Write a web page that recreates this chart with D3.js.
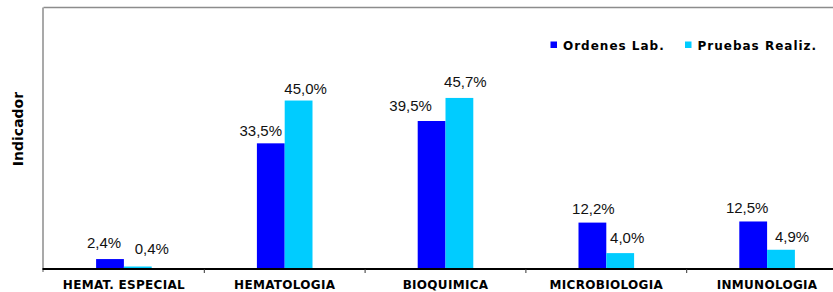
<!DOCTYPE html>
<html>
<head>
<meta charset="utf-8">
<script src="https://cdn.jsdelivr.net/npm/d3@7"></script>
<style>
  body { margin: 0; background: #fff; overflow: hidden; }
  svg { display: block; }
</style>
</head>
<body>
<svg id="chartSVG" width="833" height="292"></svg>
<script>
// data
var categories = ['HEMAT. ESPECIAL', 'HEMATOLOGIA', 'BIOQUIMICA', 'MICROBIOLOGIA', 'INMUNOLOGIA'];
var seriesNames = ['Ordenes Lab.', 'Pruebas Realiz.'];
var ordenes = [2.4, 33.5, 39.5, 12.2, 12.5];
var pruebas = [0.4, 45.0, 45.7, 4.0, 4.9];

// label nudges (the labels in the original are not quite centred)
var nudgeOrdenes = [[-6, -11], [-10, -7], [-21, -10], [1, -9], [-6, -8]];
var nudgePruebas = [[14, -13], [7, -7], [6, -11], [7, -10], [11, -8]];

var colors = ['#0000ff', '#00ccff'];

var svg = d3.select('#chartSVG');
var plotLeft = 43.5, plotTop = 7.5, plotBottom = 268, bandW = 160.8, barW = 27.8;

var x0 = d3.scaleBand()
  .domain(categories)
  .range([plotLeft, plotLeft + bandW * categories.length])
  .padding(0);

var x1 = d3.scaleBand()
  .domain(seriesNames)
  .range([bandW / 2 - barW, bandW / 2 + barW])
  .padding(0);

var y = d3.scaleLinear().domain([0, 70]).range([plotBottom, plotTop]);

var fmt = function(v){ return d3.format('.1f')(v).replace('.', ',') + '%'; };

// plot frame (grey top + left)
svg.append('line')
  .attr('x1', plotLeft).attr('x2', 833)
  .attr('y1', plotTop).attr('y2', plotTop)
  .attr('stroke', '#8c8c8c').attr('stroke-width', 1.5);

svg.append('line')
  .attr('x1', plotLeft - 0.5).attr('x2', plotLeft - 0.5)
  .attr('y1', plotTop).attr('y2', plotBottom + 4)
  .attr('stroke', '#8c8c8c').attr('stroke-width', 1.5);

var rows = categories.map(function(c, i){
  return {cat: c, vals: [
    {name: seriesNames[0], v: ordenes[i], nudge: nudgeOrdenes[i], color: colors[0]},
    {name: seriesNames[1], v: pruebas[i], nudge: nudgePruebas[i], color: colors[1]}
  ]};
});

var groups = svg.selectAll('.catg')
  .data(rows)
  .enter()
  .append('g')
  .attr('class', 'catg')
  .attr('transform', function(d){ return 'translate(' + x0(d.cat) + ',0)'; });

groups.selectAll('rect')
  .data(function(d){ return d.vals; })
  .enter()
  .append('rect')
  .attr('x', function(d){ return x1(d.name); })
  .attr('width', x1.bandwidth())
  .attr('y', function(d){ return y(d.v); })
  .attr('height', function(d){ return plotBottom - y(d.v); })
  .attr('fill', function(d){ return d.color; });

groups.selectAll('.vlab')
  .data(function(d){ return d.vals; })
  .enter()
  .append('text')
  .attr('class', 'vlab')
  .attr('x', function(d){ return x1(d.name) + x1.bandwidth() / 2 + d.nudge[0]; })
  .attr('y', function(d){ return y(d.v) + d.nudge[1]; })
  .attr('text-anchor', 'middle')
  .attr('font-family', '"Liberation Sans", Arial, sans-serif')
  .attr('font-size', '15px')
  .attr('fill', '#111')
  .text(function(d){ return fmt(d.v); });

// x axis
svg.append('line')
  .attr('x1', plotLeft - 1).attr('x2', 833)
  .attr('y1', plotBottom + 1).attr('y2', plotBottom + 1)
  .attr('stroke', '#000').attr('stroke-width', 2);

svg.selectAll('.sep')
  .data(categories.slice(1))
  .enter()
  .append('line')
  .attr('class', 'sep')
  .attr('x1', function(d){ return x0(d); }).attr('x2', function(d){ return x0(d); })
  .attr('y1', plotBottom + 1).attr('y2', plotBottom + 5)
  .attr('stroke', '#333').attr('stroke-width', 1);

svg.selectAll('.xlab')
  .data(categories)
  .enter()
  .append('text')
  .attr('class', 'xlab')
  .attr('x', function(d){ return x0(d) + x0.bandwidth() / 2; })
  .attr('y', 288.5)
  .attr('text-anchor', 'middle')
  .attr('font-family', '"DejaVu Sans", Verdana, sans-serif')
  .attr('font-weight', 'bold')
  .attr('font-size', '12px')
  .attr('letter-spacing', '0.3px')
  .attr('fill', '#000')
  .text(function(d){ return d; });

// y title
svg.append('text')
  .attr('transform', 'translate(23,129) rotate(-90)')
  .attr('text-anchor', 'middle')
  .attr('font-family', '"DejaVu Sans", Verdana, sans-serif')
  .attr('font-weight', 'bold')
  .attr('font-size', '14px')
  .attr('fill', '#000')
  .text('Indicador');

// legend
var legendX = [550.5, 685];
var lg = svg.selectAll('.leg')
  .data(seriesNames)
  .enter()
  .append('g')
  .attr('class', 'leg')
  .attr('transform', function(d, i){ return 'translate(' + legendX[i] + ',0)'; });

lg.append('rect')
  .attr('x', 0).attr('y', 41.5)
  .attr('width', 6.5).attr('height', 6.5)
  .attr('fill', function(d, i){ return colors[i]; });

lg.append('text')
  .attr('x', 12.5).attr('y', 50)
  .attr('font-family', '"DejaVu Sans", Verdana, sans-serif')
  .attr('font-weight', 'bold')
  .attr('font-size', '12px')
  .attr('letter-spacing', '1px')
  .attr('fill', '#000')
  .text(function(d){ return d; });
</script>
</body>
</html>
